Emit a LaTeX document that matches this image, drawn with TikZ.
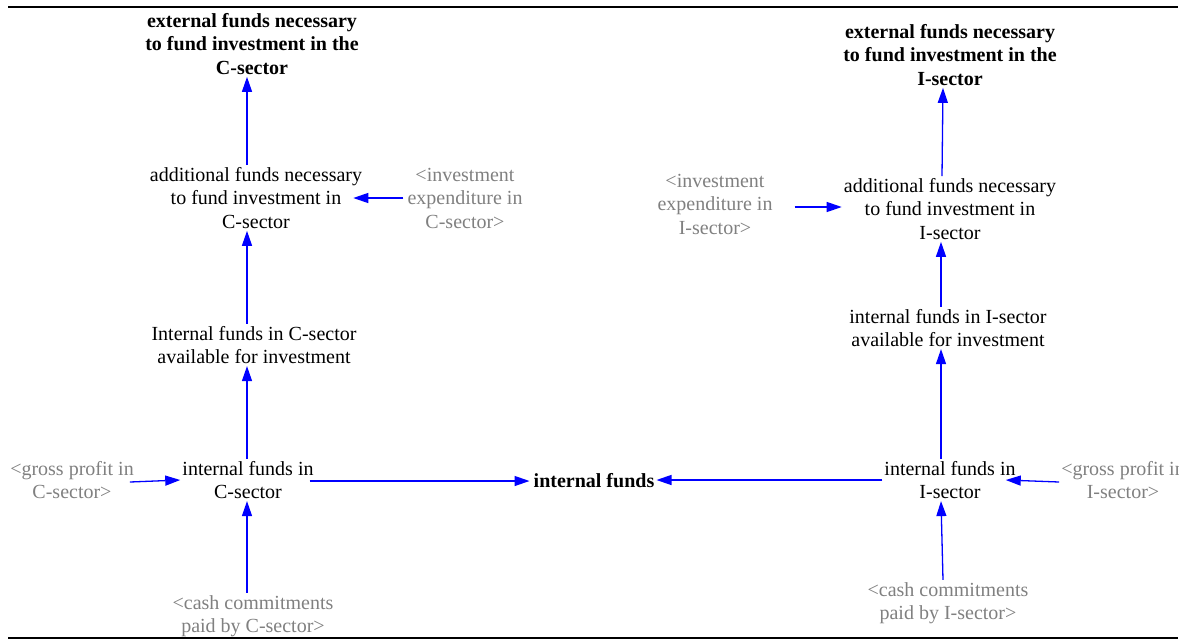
\documentclass[tikz,border=0pt]{standalone}
\usepackage{fontspec}
\setmainfont{Liberation Serif}
\usetikzlibrary{arrows.meta}
\definecolor{arrowblue}{RGB}{0,0,255}
\definecolor{shadowgray}{RGB}{128,128,128}
\tikzset{
  var/.style={align=center, inner sep=2pt, font=\fontsize{20}{23.5}\selectfont},
  bvar/.style={var, font=\fontsize{20}{23.5}\selectfont\bfseries},
  shadow/.style={var, text=shadowgray},
  link/.style={draw=arrowblue, line width=1.3pt, -{Triangle[length=15pt,width=10pt,fill=arrowblue]}},
}
\begin{document}
\begin{tikzpicture}[x=1pt,y=-1pt]
\useasboundingbox (0,0) rectangle (1191,641);
\clip (0,0) rectangle (1178,641);
\draw[line width=1.8pt] (8,7) -- (1178,7);
\draw[line width=1.8pt] (8,638) -- (1178,638);
% C-sector
\node[bvar] (extC) at (252,44) {external funds necessary\\to fund investment in the\\C-sector};
\node[var] (addC) at (256,198) {additional funds necessary\\to fund investment in\\C-sector};
\node[shadow] (invC) at (465,198) {<investment\\expenditure in\\C-sector>};
\node[var] (availC) at (254,345) {Internal funds in C-sector\\available for investment};
\node[var] (intC) at (248,480) {internal funds in\\C-sector};
\node[shadow] (grossC) at (72,480) {<gross profit in\\C-sector>};
\node[shadow] (cashC) at (253,616) {<cash commitments\\paid by C-sector>};
% centre
\node[bvar] (intF) at (594,481) {internal funds};
% I-sector
\node[bvar] (extI) at (950,55) {external funds necessary\\to fund investment in the\\I-sector};
\node[var] (addI) at (950,209) {additional funds necessary\\to fund investment in\\I-sector};
\node[shadow] (invI) at (715,204) {<investment\\expenditure in\\I-sector>};
\node[var] (availI) at (948,328) {internal funds in I-sector\\available for investment};
\node[var] (intI) at (950,480) {internal funds in\\I-sector};
\node[shadow] (grossI) at (1123,480) {<gross profit in\\I-sector>};
\node[shadow] (cashI) at (948,603) {<cash commitments\\paid by I-sector>};
% links C
\draw[link] (cashC.north -| 247,0) -- (intC.south -| 247,0);
\draw[link] (intC.north -| 247,0) -- (availC.south -| 247,0);
\draw[link] (availC.north -| 247,0) -- (addC.south -| 247,0);
\draw[link] (addC.north -| 247,0) -- (extC.south -| 247,0);
\draw[link] ([xshift=-2pt]invC.west |- 0,198) -- ([xshift=-11pt]addC.east |- 0,198);
\draw[link] ([xshift=-6pt]grossC.east |- 0,482) -- (intC.west |- 0,480);
\draw[link] ([xshift=-6pt]intC.east |- 0,481) -- ([xshift=-2pt]intF.west |- 0,481);
% links I
\draw[link] (intI.west |- 0,480) -- (intF.east |- 0,480);
\draw[link] (grossI.west |- 0,482) -- ([xshift=-12pt]intI.east |- 0,480);
\draw[link] (cashI.north -| 943,0) -- (intI.south -| 941,0);
\draw[link] (intI.north -| 941,0) -- (availI.south -| 941,0);
\draw[link] (availI.north -| 941,0) -- (addI.south -| 941,0);
\draw[link] (addI.north -| 942,0) -- (extI.south -| 943,0);
\draw[link] ([xshift=20pt]invI.east |- 0,207) -- (addI.west |- 0,207);
\end{tikzpicture}
\end{document}
